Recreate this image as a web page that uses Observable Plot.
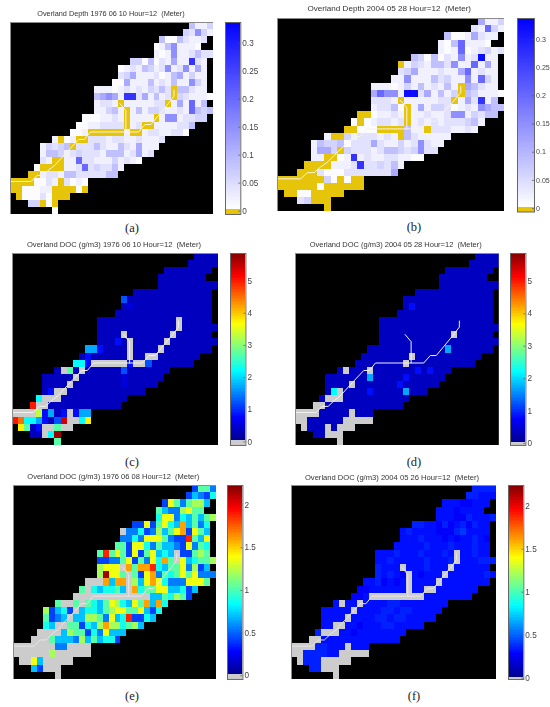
<!DOCTYPE html>
<html>
<head>
<meta charset="utf-8">
<script src="https://cdn.jsdelivr.net/npm/d3@7"></script>
<script src="https://cdn.jsdelivr.net/npm/@observablehq/plot@0.6"></script>
<style>
html,body{margin:0;padding:0;background:#fff;overflow:hidden}
#page{position:relative;width:550px;height:707px;overflow:hidden}
#page svg{position:absolute;background:transparent;filter:blur(.7px)}
.title{position:absolute;font-family:"Liberation Sans",Arial,sans-serif;color:#333;white-space:pre;transform:translateX(-50%);line-height:1;filter:blur(.3px)}
.cap{position:absolute;font-family:"Liberation Serif",serif;font-size:12.5px;color:#222;transform:translateX(-50%);line-height:1}
</style>
</head>
<body>
<div id="page"></div>
<script>
// first column of the watershed in each grid row (27 rows x 34 columns)
const rowStart = [30,29,25,24,24,20,18,18,17,14,14,14,14,12,11,10,7,5,5,5,4,3,0,0,1,3,7];

// channel polyline, in grid columns / rows
const riverCols = [0.1,3.45,4.45,5.45,6.45,7.5,9.55,11.4,12.35,13.35,21.4,22.5,23.5,26.4,27.35,27.35];
const riverRows = [22.36,22.36,21.5,21.5,20.7,20,18.1,16.45,16.45,15.4,15.4,14.35,14.35,11.4,10.35,9.5];
const tribCols = [18.3,19.3,19.3];
const tribRows = [11.4,12.4,15.4];

// value read for each legend shade
const depthShades = {"0":0,"1":.006,"2":.022,"3":.04,"4":.06,"5":.085,"6":.115,"7":.15,"8":.2,"9":.27,"A":.32};
const docShades56 = {"0":0,"1":.33,"2":.5,"3":.8,"4":1.2,"5":1.7,"6":2.2,"7":2.7,"8":3.3,"9":3.75,"O":4.5,"R":5,"E":5.4,"D":5.7};
const docShades22e = {"0":0,"1":.42,"2":.55,"3":.7,"4":.88,"5":1.03,"6":1.2,"7":1.36,"8":1.6,"9":1.88,"D":2.15};
const docShades22f = {"0":0,"1":.27,"2":.31,"3":.35,"4":.4};

const depth1976 = ["5224","43742","51153223","12572221","2127223533","4415132622932","123254237237262","346222312562422","1162225232522742","2221232324353055322","56762993625230432221","2332022222330262825","22452025244322328545","111223202222027723344","11223333023002222335","11200000020023322331","2012003332332232223","24345033353225326222","2554234333255523623","32002283322242321","100002238343352","002332553333355","0000113203121","0011122000010","011131000","44010","1"];
const depth2004 = ["6224","32842","51126322","21582221","2128123423","5415132723A22","024325537228262","346222322682322","2272225342272842","2221242523252065322","68772AA3625240542221","3332022222330263925","23351026244312327655","001223202232237724355","10123323023232333452","00111000052203332232","2004233323205322222","25445133363224237322","2664043332355434733","22001292322332211","000022239334352","000311133333336","0000000410100","0000001000000","001100000","34000","0"];
const doc1976 = ["1111","11111","11111111","11111111","1111111111","1111111111111","411111111111111","121111111111111","1111111111111111","1111111111111011111","11111111111110111111","1111011111110111111","11131011111011111111","553111101111011111111","13111111011001111111","66300000030041111111","1071011111141111111","11111011111112111111","1111011111111211111","13001111111111111","600011111111111","R00111111111111","0000835130355","RO665314E0069","971300700","1106D","7"];
const doc2004 = ["1111","11111","11111111","11111111","1111111111","1111111111111","111111111111111","131111111111111","1111111111111111","1111111111111111111","11111111111111111111","1111111111110111111","11111111111111111111","111111111111151111111","11111111011111111111","11111111011111111111","1011101111111313111","11111115111113111111","1111011111113111111","16011113111115111","100011111111111","001111111111111","0000111110111","0011111100000","011101000","11000","0"];
const doc1976b = ["1552","13214","17525663","53226755","4772435356","1171574383524","022412635781753","224277752119537","5517742533217254","5957517157343011565","11225715274850734556","6777085889435572613","6D775051782545757222","000838806378742227775","50434453084557733413","00000000000003354651","5005054357643758384","61341034435677557314","5123033665273491143","43005514368664563","000036551427333","000533326353441","0000000220000","0000006000000","007300000","31000","0"];
const doc2004b = ["3333","33222","22211222","22212222","2221132223","3322131231322","232222111342222","222322212122321","2222232223222322","2223222322232022322","22322222322230222333","3222022232220222222","32321021222022222232","223121202222022222222","11222222022002222222","11200000000022222222","2022022223322222222","22222022223323322222","2222022223323322222","22002212223322222","300022122222222","002222222222222","0000332220222","0033332200000","033300000","33000","0"];

const zeroYellow = "#e6c40a", zeroGray = "#cccccc";
function jet(top, band, zero){
  const f = [0,.125,.375,.625,.875,1].map(k => k*top);
  return {type:"linear", interpolate:"rgb", clamp:true,
    domain:[0, band, band*1.001, ...f.slice(1)],
    range:[zero, zero, "#000090", "#0000ff", "#00ffff", "#ffff00", "#ff0000", "#800000"]};
}
function whiteBlue(top, band, zero){
  return {type:"linear", interpolate:"rgb", clamp:true,
    domain:[0, band, band*1.001, top],
    range:[zero, zero, "#ffffff", "#0000ff"]};
}

const panels = [
 {title:"Overland Depth 1976 06 10 Hour=12  (Meter)", cap:"(a)", rows:depth1976, shades:depthShades,
  color:whiteBlue(.337,.0025,zeroYellow), line:"#f7f5e4", tx:111, ty:14, fs:7.3, capx:132, capy:228,
  map:[10,22,203.3,192], bar:[224.7,22,15.3,192], lim:[-.006,.337], ticks:[0,.05,.1,.15,.2,.25,.3], tf:8.2},
 {title:"Overland Depth 2004 05 28 Hour=12  (Meter)", cap:"(b)", rows:depth2004, shades:depthShades,
  color:whiteBlue(.337,.0025,zeroYellow), line:"#f7f5e4", tx:389.3, ty:9.5, fs:8.1, capx:414, capy:227,
  map:[276.5,17.7,227.8,193.6], bar:[517.3,17.7,17,193.6], lim:[-.006,.337], ticks:[0,.05,.1,.15,.2,.25,.3], tf:7.1},
 {title:"Overland DOC (g/m3) 1976 06 10 Hour=12  (Meter)", cap:"(c)", rows:doc1976, shades:docShades56,
  color:jet(5.86,.04,zeroGray), line:"#f2f2f2", tx:114, ty:244.5, fs:7.6, capx:132, capy:462,
  map:[12,253,206.3,192], bar:[230.3,253,15.4,192], lim:[-.11,5.86], ticks:[0,1,2,3,4,5], tf:8.2},
 {title:"Overland DOC (g/m3) 2004 05 28 Hour=12  (Meter)", cap:"(d)", rows:doc2004, shades:docShades56,
  color:jet(5.86,.02,zeroGray), line:"#f2f2f2", tx:395.7, ty:244.5, fs:7.5, capx:414, capy:462,
  map:[295,253,203.7,192], bar:[510.3,253,15.4,192], lim:[-.06,5.86], ticks:[0,1,2,3,4,5], tf:8.2},
 {title:"Overland DOC (g/m3) 1976 06 08 Hour=12  (Meter)", cap:"(e)", rows:doc1976b, shades:docShades22e,
  color:jet(2.23,.015,zeroGray), line:"#e6e6e6", tx:113.3, ty:476.5, fs:7.5, capx:132, capy:696,
  map:[12.7,484.7,203,194], bar:[227.3,484.7,15.4,194], lim:[-.043,2.23], ticks:[0,.5,1,1.5,2], tf:8.2},
 {title:"Overland DOC (g/m3) 2004 05 26 Hour=12  (Meter)", cap:"(f)", rows:doc2004b, shades:docShades22f,
  color:jet(2.24,.008,zeroGray), line:"#e6e6e6", tx:392, ty:477.5, fs:7.6, capx:414, capy:696,
  map:[290.7,484.7,205,194], bar:[507.7,484.7,15.3,194], lim:[-.015,2.24], ticks:[0,.5,1,1.5,2], tf:8.2}
];

const page = document.getElementById("page");
function place(node, left, top){
  node.style.left = left + "px";
  node.style.top = top + "px";
  page.appendChild(node);
}
function label(cls, text, x, y, fs){
  const d = document.createElement("div");
  d.className = cls;
  d.textContent = text;
  if (fs) d.style.fontSize = fs + "px";
  place(d, x, y - (fs ? fs/2 : 6));
}

panels.forEach(p => {
  const cells = [];
  p.rows.forEach((row, r) => [...row].forEach((ch, i) => {
    const c = rowStart[r] + i;
    cells.push({c, r, v:p.shades[ch]});
  }));
  const river = riverCols.map((c,i) => ({c, r:riverRows[i], k:"main"}))
    .concat(tribCols.map((c,i) => ({c, r:tribRows[i], k:"trib"})));
  const [mx,my,mw,mh] = p.map;
  const map = Plot.plot({
    width:mw, height:mh, margin:0,
    x:{domain:[0,34], axis:null},
    y:{domain:[0,27], reverse:true, axis:null},
    color:p.color,
    marks:[
      Plot.frame({fill:"black"}),
      Plot.rect(cells, {x1:"c", x2:d=>d.c+1, y1:"r", y2:d=>d.r+1, fill:"v", shapeRendering:"crispEdges"}),
      Plot.line(river, {x:"c", y:"r", z:"k", stroke:p.line, strokeWidth:1}),
      Plot.frame({stroke:"#8c8c8c", strokeWidth:1})
    ]
  });
  place(map, mx, my);

  const [bx,by,bw,bh] = p.bar;
  const [lo,hi] = p.lim;
  const step = (hi-lo)/128;
  const ramp = d3.range(lo, hi, step).map(v => ({v0:v, v1:v+step, v:Math.max(0,v+step/2)}));
  const right = Math.min(30, 550-bx-bw);
  const bar = Plot.plot({
    width:bw+right, height:bh+10, marginLeft:0, marginRight:right, marginTop:5, marginBottom:5,
    x:{domain:[0,1], axis:null},
    y:{domain:[lo,hi], axis:null},
    color:p.color,
    style:{fontFamily:"Liberation Sans",color:"#444"},
    marks:[
      Plot.rect(ramp, {x1:0, x2:1, y1:"v0", y2:"v1", fill:"v", shapeRendering:"crispEdges"}),
      Plot.frame({stroke:"#666", strokeWidth:1}),
      Plot.tickY(p.ticks, {y:d=>d, stroke:"#555", strokeWidth:.7, insetLeft:bw-2}),
      Plot.text(p.ticks, {x:1, y:d=>d, text:d=>String(d), dx:1.5, textAnchor:"start", fill:"#444", fontSize:p.tf})
    ]
  });
  place(bar, bx, by-5);

  label("title", p.title, p.tx, p.ty, p.fs);
  label("cap", p.cap, p.capx, p.capy);
});
</script>
</body>
</html>
